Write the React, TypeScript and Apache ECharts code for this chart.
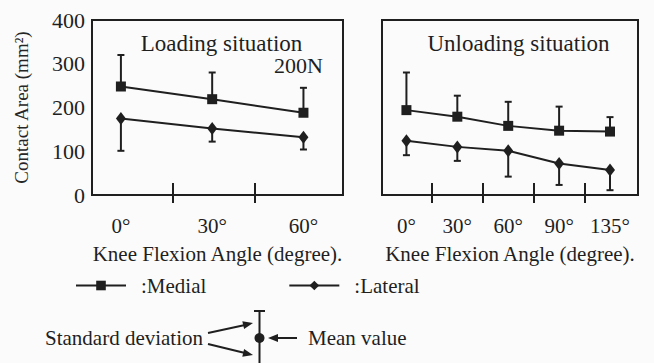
import React, { useEffect, useRef } from "react";
import * as echarts from "echarts";

// ---- data ----
const loadAngles = [0, 30, 60];
const loadMedial = [248, 219, 188];
const loadMedialSD = [72, 61, 57];
const loadLateral = [175, 152, 132];
const loadLateralSD = [74, 30, 28];
const loadTickMarks = [17, 44];

const unloadAngleLabels = ["0°", "30°", "60°", "90°", "135°"];
const unloadMedial = [194, 179, 158, 147, 145];
const unloadMedialSD = [86, 48, 55, 55, 33];
const unloadLateral = [124, 110, 101, 72, 57];
const unloadLateralSD = [33, 32, 59, 49, 46];
const unloadTickMarks = [0.5, 1.5, 2.5, 3.5];

const yMin = 0;
const yMax = 400;
const yStep = 100;

const INK = "#1f1f1f";
const FONT = "'Liberation Serif', 'Times New Roman', serif";

const errorBarItem = (params: any, api: any) => {
  const x = api.value(0);
  const m = api.value(1);
  const e = api.value(2);
  const p0 = api.coord([x, m]);
  const p1 = api.coord([x, e]);
  const style = { stroke: INK, lineWidth: 2 };
  return {
    type: "group",
    children: [
      { type: "line", shape: { x1: p0[0], y1: p0[1], x2: p1[0], y2: p1[1] }, style },
      { type: "line", shape: { x1: p1[0] - 3.5, y1: p1[1], x2: p1[0] + 3.5, y2: p1[1] }, style },
    ],
  };
};

export default function App() {
  const ref = useRef<HTMLDivElement>(null);
  useEffect(() => {
    if (!ref.current) return;
    const chart = echarts.init(ref.current, null, { renderer: "svg" });

    const font = { fontFamily: FONT, color: INK };
    const lineSeries = (name: string, xi: number, xs: number[], ys: number[], symbol: string, size: any) => ({
      name,
      type: "line",
      xAxisIndex: xi,
      yAxisIndex: xi,
      data: ys.map((v, i) => [xs[i], v]),
      symbol,
      symbolSize: size,
      showSymbol: true,
      lineStyle: { color: INK, width: 2 },
      itemStyle: { color: INK },
      z: 3,
    });
    const errSeries = (xi: number, xs: number[], ys: number[], sd: number[], dir: number) => ({
      type: "custom",
      xAxisIndex: xi,
      yAxisIndex: xi,
      renderItem: errorBarItem,
      data: ys.map((v, i) => [xs[i], v, v + dir * sd[i]]),
      z: 2,
      silent: true,
    });

    const unloadIdx = unloadMedial.map((_, i) => i);

    const xCommon = {
      type: "value",
      offset: -12,
      axisLine: { show: false },
      splitLine: { show: false },
      nameLocation: "middle",
      nameGap: 60,
      nameTextStyle: { ...font, fontSize: 21 },
    };

    const yCommon = {
      type: "value",
      min: yMin,
      max: yMax,
      interval: yStep,
      axisLine: { show: false },
      axisTick: { show: false },
      splitLine: { show: false },
    };

    const option: any = {
      animation: false,
      backgroundColor: "#fbfbfb",
      grid: [
        { left: 92, top: 20, width: 251, height: 175, show: true, borderColor: INK, borderWidth: 2, backgroundColor: "transparent" },
        { left: 382, top: 20, width: 256, height: 175, show: true, borderColor: INK, borderWidth: 2, backgroundColor: "transparent" },
      ],
      xAxis: [
        {
          ...xCommon,
          gridIndex: 0,
          min: -9.5,
          max: 73,
          name: "Knee Flexion Angle (degree).",
          axisTick: { show: true, length: 20, customValues: loadTickMarks, lineStyle: { color: INK, width: 2 } },
          axisLabel: { customValues: loadAngles, formatter: (v: number) => v + "°", margin: 32, fontSize: 21, ...font },
        },
        {
          ...xCommon,
          gridIndex: 1,
          min: -0.48,
          max: 4.55,
          name: "Knee Flexion Angle (degree).",
          axisTick: { show: true, length: 20, customValues: unloadTickMarks, lineStyle: { color: INK, width: 2 } },
          axisLabel: {
            customValues: unloadIdx,
            formatter: (v: number) => unloadAngleLabels[Math.round(v)] ?? "",
            margin: 32,
            fontSize: 21,
            ...font,
          },
        },
      ],
      yAxis: [
        {
          ...yCommon,
          gridIndex: 0,
          name: "Contact Area (mm²)",
          nameLocation: "middle",
          nameRotate: 90,
          nameGap: 61,
          nameTextStyle: { fontFamily: FONT, color: "#262626", fontSize: 19 },
          axisLabel: { show: true, margin: 7, fontSize: 22, padding: [10, 0, 0, 0], ...font },
        },
        { ...yCommon, gridIndex: 1, axisLabel: { show: false } },
      ],
      legend: {
        left: 75,
        top: 275,
        padding: 0,
        itemWidth: 50,
        itemHeight: 12,
        itemGap: 82,
        data: ["Medial", "Lateral"],
        formatter: (n: string) => ":" + n,
        textStyle: { ...font, fontSize: 21, padding: [0, 0, 0, 10] },
        selectedMode: false,
      },
      series: [
        errSeries(0, loadAngles, loadMedial, loadMedialSD, 1),
        errSeries(0, loadAngles, loadLateral, loadLateralSD, -1),
        lineSeries("Medial", 0, loadAngles, loadMedial, "rect", 10),
        lineSeries("Lateral", 0, loadAngles, loadLateral, "diamond", [10, 13]),
        errSeries(1, unloadIdx, unloadMedial, unloadMedialSD, 1),
        errSeries(1, unloadIdx, unloadLateral, unloadLateralSD, -1),
        lineSeries("Medial", 1, unloadIdx, unloadMedial, "rect", 10),
        lineSeries("Lateral", 1, unloadIdx, unloadLateral, "diamond", [10, 13]),
      ],
      graphic: [
        { type: "text", x: 221.5, y: 43, style: { text: "Loading situation", ...font, fill: INK, fontSize: 23, align: "center", verticalAlign: "middle" } },
        { type: "text", x: 323, y: 65, style: { text: "200N", ...font, fill: INK, fontSize: 22, align: "right", verticalAlign: "middle" } },
        { type: "text", x: 518.5, y: 43, style: { text: "Unloading situation", ...font, fill: INK, fontSize: 23, align: "center", verticalAlign: "middle" } },
        // annotation
        { type: "text", x: 45, y: 338, style: { text: "Standard deviation", ...font, fill: INK, fontSize: 21, align: "left", verticalAlign: "middle" } },
        { type: "line", shape: { x1: 208, y1: 333, x2: 245, y2: 325 }, style: { stroke: INK, lineWidth: 2 } },
        { type: "polygon", shape: { points: [[253, 323], [244.1, 329.1], [242.3, 321.3]] }, style: { fill: INK } },
        { type: "line", shape: { x1: 208, y1: 344, x2: 245, y2: 353 }, style: { stroke: INK, lineWidth: 2 } },
        { type: "polygon", shape: { points: [[253, 355], [242.3, 356.7], [244.1, 348.9]] }, style: { fill: INK } },
        { type: "line", shape: { x1: 259.5, y1: 311, x2: 259.5, y2: 363 }, style: { stroke: INK, lineWidth: 2 } },
        { type: "line", shape: { x1: 254, y1: 311, x2: 265, y2: 311 }, style: { stroke: INK, lineWidth: 2 } },
        { type: "circle", shape: { cx: 259.5, cy: 338, r: 5 }, style: { fill: INK } },
        { type: "line", shape: { x1: 297, y1: 338, x2: 276, y2: 338 }, style: { stroke: INK, lineWidth: 2 } },
        { type: "polygon", shape: { points: [[268, 338], [278, 334], [278, 342]] }, style: { fill: INK } },
        { type: "text", x: 308, y: 338, style: { text: "Mean value", ...font, fill: INK, fontSize: 21, align: "left", verticalAlign: "middle" } },
      ],
    };
    chart.setOption(option);
    return () => chart.dispose();
  }, []);
  return (
    <div
      ref={ref}
      style={{ position: "fixed", left: 0, top: 0, width: 654, height: 363 }}
    />
  );
}
